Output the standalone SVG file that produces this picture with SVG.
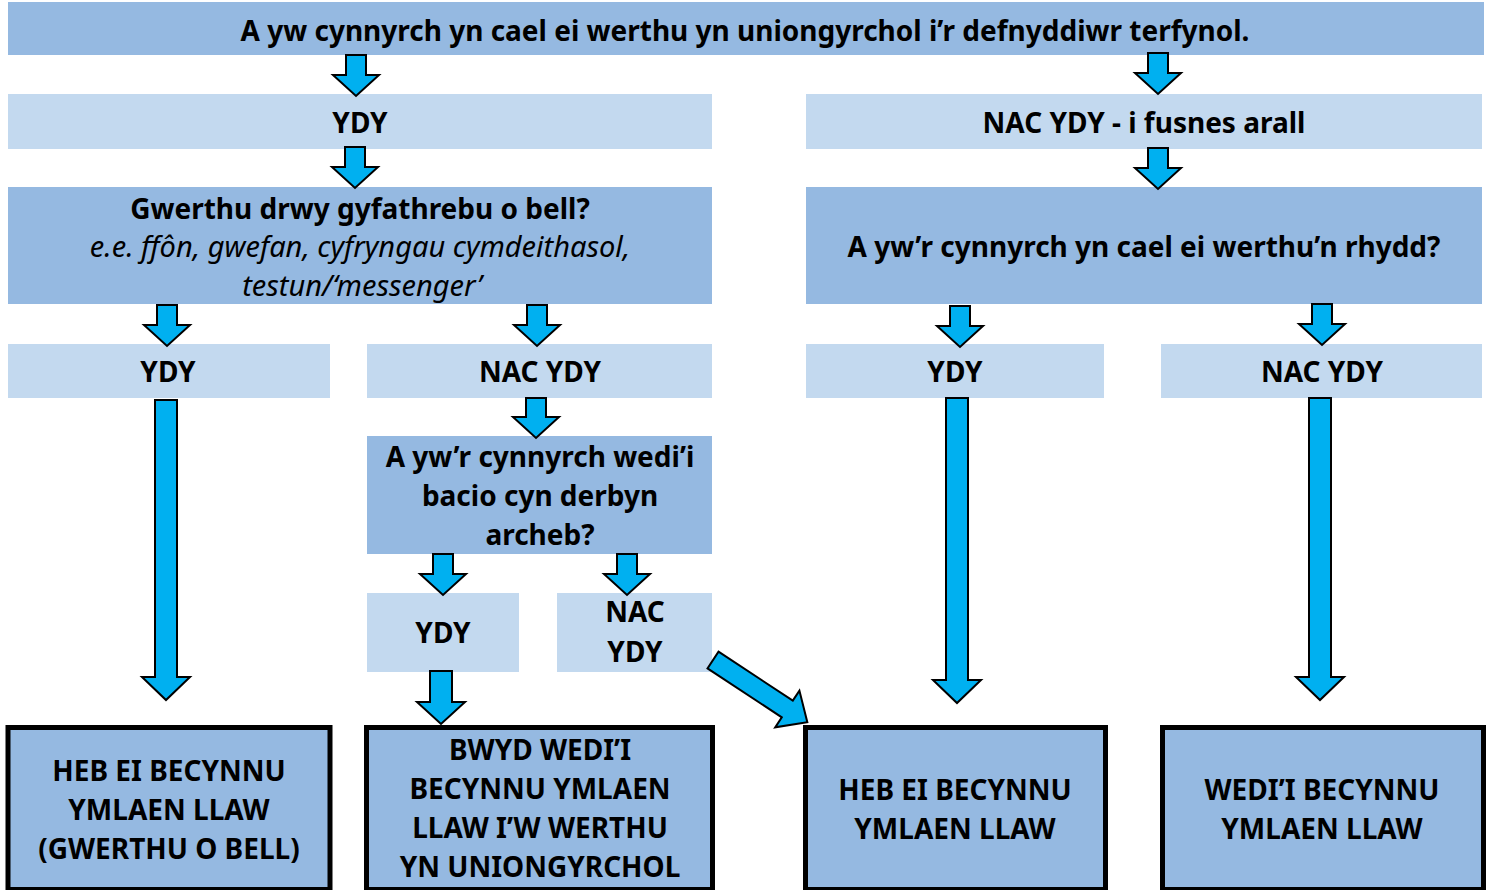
<svg xmlns="http://www.w3.org/2000/svg" width="1491" height="890" viewBox="0 0 1491 890">
<style>
.d{fill:#95B9E1}
.l{fill:#C3D9EF}
.o{fill:#95B9E1;stroke:#000;stroke-width:5}
.t{font-family:"Noto Sans","Open Sans","DejaVu Sans",sans-serif;font-size:28px;font-weight:bold;fill:#000;text-anchor:middle}
.i{font-family:"Noto Sans","Open Sans","DejaVu Sans",sans-serif;font-size:29px;font-style:italic;fill:#000;text-anchor:middle}
.a{fill:#00B0F0;stroke:#000;stroke-width:2;stroke-linejoin:miter}
</style>
<rect width="1491" height="890" fill="#fff"/>
<g id="q1"><rect class="d" x="8" y="2" width="1476" height="53"/><text class="t" x="745" y="41">A yw cynnyrch yn cael ei werthu yn uniongyrchol i’r defnyddiwr terfynol.</text></g>
<g id="yes1"><rect class="l" x="8" y="94" width="704" height="55"/><text class="t" x="360" y="133">YDY</text></g>
<g id="no1"><rect class="l" x="806" y="94" width="676" height="55"/><text class="t" x="1144" y="133">NAC YDY - i fusnes arall</text></g>
<g id="q2"><rect class="d" x="8" y="187" width="704" height="117"/><text class="t" x="360" y="219">Gwerthu drwy gyfathrebu o bell?</text><text class="i" x="360" y="257">e.e. ffôn, gwefan, cyfryngau cymdeithasol,</text><text class="i" x="362" y="296">testun/‘messenger’</text></g>
<g id="q3"><rect class="d" x="806" y="187" width="676" height="117"/><text class="t" x="1144" y="257">A yw’r cynnyrch yn cael ei werthu’n rhydd?</text></g>
<g id="yes2"><rect class="l" x="8" y="344" width="322" height="54"/><text class="t" x="168" y="382">YDY</text></g>
<g id="no2"><rect class="l" x="367" y="344" width="345" height="54"/><text class="t" x="540" y="382">NAC YDY</text></g>
<g id="yes3"><rect class="l" x="806" y="344" width="298" height="54"/><text class="t" x="955" y="382">YDY</text></g>
<g id="no3"><rect class="l" x="1161" y="344" width="321" height="54"/><text class="t" x="1322" y="382">NAC YDY</text></g>
<g id="q4"><rect class="d" x="367" y="436" width="345" height="118"/><text class="t" x="540" y="467">A yw’r cynnyrch wedi’i</text><text class="t" x="540" y="506">bacio cyn derbyn</text><text class="t" x="540" y="545">archeb?</text></g>
<g id="yes4"><rect class="l" x="367" y="593" width="152" height="79"/><text class="t" x="443" y="643">YDY</text></g>
<g id="no4"><rect class="l" x="557" y="593" width="155" height="79"/><text class="t" x="635" y="622">NAC</text><text class="t" x="635" y="662">YDY</text></g>
<g id="r1"><rect class="o" x="8" y="727.5" width="322" height="162"/><text class="t" x="169" y="781">HEB EI BECYNNU</text><text class="t" x="169" y="820">YMLAEN LLAW</text><text class="t" x="169" y="859">(GWERTHU O BELL)</text></g>
<g id="r2"><rect class="o" x="366.5" y="727.5" width="346" height="162"/><text class="t" x="540" y="760">BWYD WEDI’I</text><text class="t" x="540" y="799">BECYNNU YMLAEN</text><text class="t" x="540" y="838">LLAW I’W WERTHU</text><text class="t" x="540" y="877">YN UNIONGYRCHOL</text></g>
<g id="r3"><rect class="o" x="805.5" y="727.5" width="300" height="162"/><text class="t" x="955" y="800">HEB EI BECYNNU</text><text class="t" x="955" y="839">YMLAEN LLAW</text></g>
<g id="r4"><rect class="o" x="1162.5" y="727.5" width="321" height="162"/><text class="t" x="1322" y="800">WEDI’I BECYNNU</text><text class="t" x="1322" y="839">YMLAEN LLAW</text></g>
<g id="connectors">
<path class="a" d="M346 55H366V75H379L356 96L333 75H346Z"/>
<path class="a" d="M1148 53H1168V73H1181L1158 94L1135 73H1148Z"/>
<path class="a" d="M345 147H365V167H378L355 188L332 167H345Z"/>
<path class="a" d="M1148 148H1168V168H1181L1158 189L1135 168H1148Z"/>
<path class="a" d="M157 305H177V325H190L167 346L144 325H157Z"/>
<path class="a" d="M527 305H547V325H560L537 346L514 325H527Z"/>
<path class="a" d="M950 306H970V326H983L960 347L937 326H950Z"/>
<path class="a" d="M1312 304H1332V324H1345L1322 345L1299 324H1312Z"/>
<path class="a" d="M155 400H177V677H190L166 700L142 677H155Z"/>
<path class="a" d="M946 398H968V680H981L957 703L933 680H946Z"/>
<path class="a" d="M1309 398H1331V677H1344L1320 700L1296 677H1309Z"/>
<path class="a" d="M526 398H546V417H559L536 438L513 417H526Z"/>
<path class="a" d="M433 554H453V574H466L443 595L420 574H433Z"/>
<path class="a" d="M617 554H637V574H650L627 595L604 574H617Z"/>
<path class="a" d="M430 671H452V702H465L441 724L417 702H430Z"/>
<path class="a" transform="translate(713 660) rotate(33.4)" d="M0 -10H89V-22L113 0L89 22V10H0Z"/>
</g>
</svg>
